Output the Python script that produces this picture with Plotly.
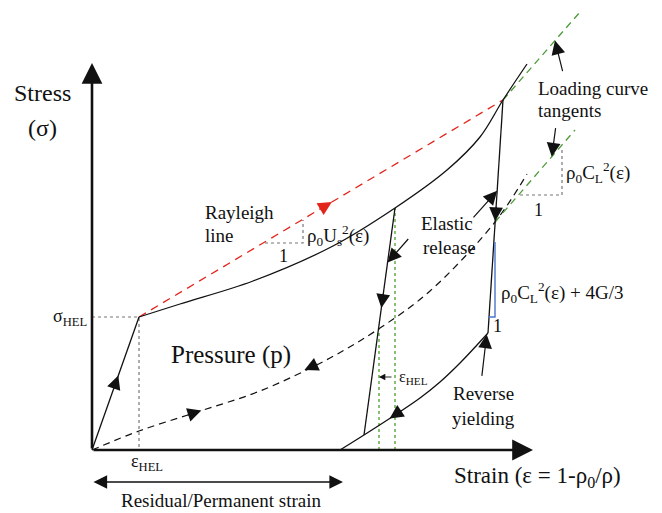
import numpy as np
import plotly.graph_objects as go

# ---- data (strain on x, stress on y; drawing units, origin at axes crossing) ----
elastic_x = [0, 47]
elastic_y = [0, 133]

loading_x = [47, 88, 161, 241, 303, 355, 388, 411, 435]
loading_y = [133, 146, 169, 204, 242, 280, 313, 350, 386]

rayleigh_x = [47, 411]
rayleigh_y = [133, 350]

tangent_hi_x = [411, 488]
tangent_hi_y = [350, 438]

tangent_lo_x = [403, 483]
tangent_lo_y = [228, 320]

pressure_x = [0, 47, 105, 168, 238, 288, 338, 403, 435]
pressure_y = [0, 19, 38, 59, 92, 122, 159, 228, 276]

release1_x = [303, 272]
release1_y = [242, 15]

release2_x = [411, 396]
release2_y = [350, 117]

reverse_x = [396, 368, 348, 328, 303, 272, 248]
reverse_y = [117, 87, 68, 52, 35, 15, 0]

hel_guide_x = [0, 47, 47]
hel_guide_y = [133, 133, 0]

ehel_lines_x = [287, 303]
ehel_lines_top = [122, 242]

rayleigh_tri_x = [173, 211, 211]
rayleigh_tri_y = [207, 207, 230]

tangent_tri_x = [428, 470, 470]
tangent_tri_y = [255, 255, 302]

bracket_x = [403, 403, 396]
bracket_y = [208, 133, 133]

x_axis_end = 441
y_axis_end = 387
residual_end = 251
residual_level = -32

FONT = "Times New Roman, Liberation Serif, serif"
BLACK = "#111111"
RED = "#e3241b"
GREEN = "#4f9a3a"
LGREEN = "#62ad48"
GREY = "#777777"
BLUE = "#4a74c9"


def on_line(xs, ys, frac):
    xs = np.asarray(xs, float)
    ys = np.asarray(ys, float)
    seg = np.hypot(np.diff(xs), np.diff(ys))
    cum = np.concatenate([[0], np.cumsum(seg)])
    s = frac * cum[-1]
    return float(np.interp(s, cum, xs)), float(np.interp(s, cum, ys))


def length(xs, ys):
    return float(np.sum(np.hypot(np.diff(xs), np.diff(ys))))


fig = go.Figure()


def line(xs, ys, color=BLACK, width=1.3, dash="solid", shape="linear"):
    fig.add_trace(go.Scatter(x=xs, y=ys, mode="lines", hoverinfo="skip",
                             line=dict(color=color, width=width, dash=dash, shape=shape)))


line(hel_guide_x, hel_guide_y, GREY, 1.2, "dot")
line(rayleigh_tri_x, rayleigh_tri_y, GREY, 1.2, "dot")
line(tangent_tri_x, tangent_tri_y, GREY, 1.2, "dot")
for gx, gt in zip(ehel_lines_x, ehel_lines_top):
    line([gx, gx], [0, gt], LGREEN, 1.5, "dot")
line(pressure_x, pressure_y, BLACK, 1.2, "7px,5px", "spline")
line(tangent_hi_x, tangent_hi_y, GREEN, 1.3, "7px,5px")
line(tangent_lo_x, tangent_lo_y, GREEN, 1.3, "7px,5px")
line(rayleigh_x, rayleigh_y, RED, 1.3, "8px,6px")
line(elastic_x, elastic_y)
line(loading_x, loading_y, shape="spline")
line(release1_x, release1_y)
line(release2_x, release2_y)
line(reverse_x, reverse_y, shape="spline")
line(bracket_x, bracket_y, BLUE, 1.4)

annotations = []


def arrow(head, tail, color=BLACK, width=1.2, size=1.8, style=2, sides="end"):
    annotations.append(dict(x=head[0], y=head[1], ax=tail[0], ay=tail[1],
                            xref="x", yref="y", axref="x", ayref="y", text="",
                            showarrow=True, arrowhead=style, startarrowhead=style,
                            arrowsize=size, startarrowsize=size, arrowwidth=width,
                            arrowcolor=color, arrowside=sides, standoff=0, startstandoff=0))


def dir_arrow(xs, ys, frac, color=BLACK, back=False):
    d = 16.0 / length(xs, ys)
    h = on_line(xs, ys, frac)
    t = on_line(xs, ys, frac + d if back else frac - d)
    arrow(h, t, color, 1.2, 2.3)


# axes
arrow((0, y_axis_end), (0, 0), BLACK, 2.6, 1.6)
arrow((x_axis_end, 0), (0, 0), BLACK, 2.6, 1.6)
# residual strain double arrow
arrow((residual_end, residual_level), (0, residual_level), BLACK, 1.3, 2.1, 2, "end+start")

# direction arrows on paths
dir_arrow(elastic_x, elastic_y, 0.56)
dir_arrow(pressure_x, pressure_y, 0.22)
dir_arrow(pressure_x, pressure_y, 0.43, back=True)
dir_arrow(rayleigh_x, rayleigh_y, 0.53, RED)
dir_arrow(release1_x, release1_y, 0.44)
dir_arrow(release2_x, release2_y, 0.52)
dir_arrow(reverse_x, reverse_y, 0.69)

# call-out arrows
h = on_line(release1_x, release1_y, 0.24)
arrow(h, (h[0] + 22, h[1] + 25), BLACK, 1.2, 2.3)
h = on_line(release2_x, release2_y, 0.39)
arrow(h, (h[0] - 25, h[1] - 28), BLACK, 1.2, 2.3)
h = on_line(tangent_hi_x, tangent_hi_y, 0.675)
arrow(h, (h[0] + 8, h[1] - 32), BLACK, 1.2, 2.3)
h = on_line(tangent_lo_x, tangent_lo_y, 0.71)
arrow(h, (h[0] + 4, h[1] + 30), BLACK, 1.2, 2.3)
h = on_line(reverse_x, reverse_y, 0.01)
arrow(h, (h[0] - 5, h[1] - 43), BLACK, 1.2, 2.3)
arrow((ehel_lines_x[0], 73), (ehel_lines_x[1] - 2, 73), BLACK, 0.9, 1.4)

labels = [
    ("Stress", -50, 357, "center", 24),
    ("(σ)", -50, 322, "center", 24),
    ("σ<sub>HEL</sub>", -3, 133, "right", 18),
    ("ε<sub>HEL</sub>", 55, -12, "center", 18),
    ("Rayleigh", 111, 238, "left", 19),
    ("line", 111, 215, "left", 19),
    ("1", 191, 194, "center", 18),
    ("ρ<sub>0</sub>U<sub>s</sub><sup>2</sup>(ε)", 213, 215, "left", 19),
    ("Pressure (p)", 77, 95, "left", 25),
    ("Elastic", 327, 227, "left", 19),
    ("release", 329, 203, "left", 19),
    ("Loading curve", 444, 362, "left", 19),
    ("tangents", 444, 340, "left", 19),
    ("ρ<sub>0</sub>C<sub>L</sub><sup>2</sup>(ε)", 472, 278, "left", 19),
    ("1", 446, 240, "center", 18),
    ("ρ<sub>0</sub>C<sub>L</sub><sup>2</sup>(ε) + 4G/3", 407, 158, "left", 19),
    ("1", 405, 124, "center", 18),
    ("Reverse", 359, 57, "left", 19),
    ("yielding", 358, 32, "left", 19),
    ("Strain (ε = 1-ρ<sub>0</sub>/ρ)", 360, -27, "left", 23),
    ("Residual/Permanent strain", 129, -50, "center", 19),
    ("ε<sub>HEL</sub>", 305, 73, "left", 16),
]
for text, x, y, anchor, size in labels:
    annotations.append(dict(x=x, y=y, xref="x", yref="y", text=text, showarrow=False,
                            xanchor=anchor, yanchor="middle",
                            font=dict(family=FONT, size=size, color=BLACK)))

# the page body adds an 8px margin, so the figure is 8px smaller and the ranges shift
fig.update_layout(
    width=654, height=505,
    margin=dict(l=0, r=0, t=0, b=0),
    paper_bgcolor="white", plot_bgcolor="white",
    showlegend=False,
    xaxis=dict(range=[-84, 570], visible=False, fixedrange=True),
    yaxis=dict(range=[-63, 442], visible=False, fixedrange=True),
    annotations=annotations,
)

fig.write_html("out.html")
